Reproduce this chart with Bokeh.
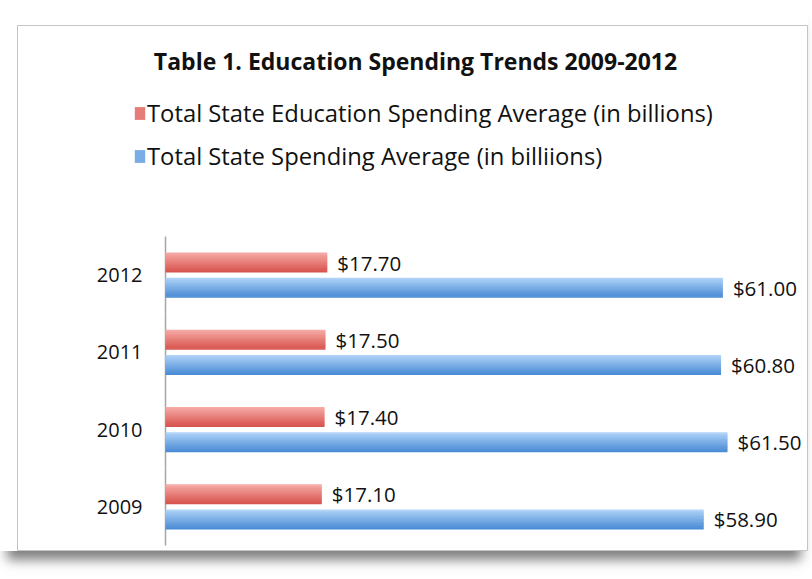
from bokeh.plotting import figure
from bokeh.models import Range1d, Legend, LegendItem, Label
from bokeh.transform import dodge
from bokeh.core.properties import value
from bokeh.embed import file_html
from bokeh.resources import INLINE

# ---- data ----
years = ["2009", "2010", "2011", "2012"]
edu_spending = [17.10, 17.40, 17.50, 17.70]
total_spending = [58.90, 61.50, 60.80, 61.00]
series_names = ["Total State Education Spending Average (in billions)",
                "Total State Spending Average (in billiions)"]
title_text = "Table 1. Education Spending Trends 2009-2012"

FONT = "Open Sans"
TXT = "#111111"

# whole framed box is the plot frame; everything drawn inside it
p = figure(width=808, height=551, output_backend="svg", toolbar_location=None,
           x_range=Range1d(-16.2, 70.37), y_range=Range1d(-0.565, 6.231),
           min_border_left=17, min_border_top=25, min_border_bottom=1,
           min_border_right=0)
p.styles = {"box-shadow": "0 16px 11px -7px rgba(0,0,0,0.5)"}
p.outline_line_color = "#c4c4c4"
p.outline_line_width = 1
p.xgrid.visible = False
p.ygrid.visible = False
p.xaxis.visible = False
p.yaxis.visible = False
p.background_fill_color = "white"
p.border_fill_color = "white"

ypos = list(range(len(years)))
source = dict(year=years, ypos=ypos, edu=edu_spending, total=total_spending,
              zero=[0] * len(years),
              lo=[i - 0.5 for i in ypos], hi=[i + 0.5 for i in ypos],
              edu_lbl=[f"${v:.2f}" for v in edu_spending],
              tot_lbl=[f"${v:.2f}" for v in total_spending])

# category axis line and year labels
p.segment(x0="zero", y0="lo", x1="zero", y1="hi", line_color="#a6a6a6",
          line_width=1.5, source=source)
p.text(x="zero", y="ypos", text="year", x_offset=-23, text_align="right",
       text_baseline="middle", text_font=value(FONT), text_font_size="20px",
       text_color=TXT, source=source)


def lerp(c1, c2, t):
    a = [int(c1[i:i + 2], 16) for i in (1, 3, 5)]
    b = [int(c2[i:i + 2], 16) for i in (1, 3, 5)]
    return "#%02x%02x%02x" % tuple(round(a[k] + (b[k] - a[k]) * t) for k in range(3))


def gradient_bar(col, center, h, top_c, bot_c, n=14):
    rends = []
    step = h / n
    for i in range(n):
        off = center + h / 2 - (i + 0.5) * step
        r = p.hbar(y=dodge("ypos", off), right=col, left=0,
                   height=step * 1.6 if 0 < i < n - 1 else step,
                   fill_color=lerp(top_c, bot_c, i / (n - 1)), line_color=None,
                   source=source)
        rends.append(r)
    return rends

BAR_H = 0.26
red = gradient_bar("edu", 0.163, BAR_H, "#f6aba7", "#d8544e")
blue = gradient_bar("total", -0.163, BAR_H, "#b0d3f8", "#4b8cd5")

p.text(x="edu", y=dodge("ypos", 0.163), text="edu_lbl",
       x_offset=10, text_baseline="middle", text_font=value(FONT),
       text_font_size="20.5px", text_color=TXT, source=source)
p.text(x="total", y=dodge("ypos", -0.163), text="tot_lbl",
       x_offset=10, text_baseline="middle", text_font=value(FONT),
       text_font_size="20.5px", text_color=TXT, source=source)

legend = Legend(items=[LegendItem(label=series_names[0], renderers=[red[7]]),
                       LegendItem(label=series_names[1], renderers=[blue[7]])],
                location=(116, 378), orientation="vertical",
                glyph_width=13, glyph_height=16, label_standoff=1,
                padding=0, margin=0, spacing=11,
                border_line_color=None, background_fill_alpha=0,
                label_text_font=FONT, label_text_font_size="23.8px",
                label_text_color=TXT)
p.add_layout(legend, "center")

title = Label(x=398, y=490, x_units="screen", y_units="screen", text=title_text,
              text_align="center", text_baseline="middle", text_font=FONT,
              text_font_size="23px", text_font_style="bold", text_color=TXT)
p.add_layout(title)

open("out.html", "w").write(file_html(p, INLINE))
